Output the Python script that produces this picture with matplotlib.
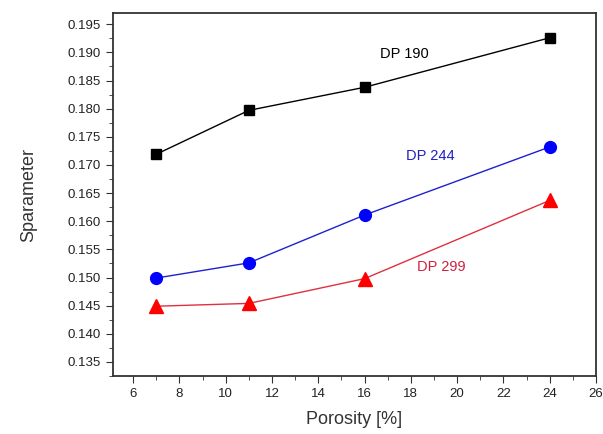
import matplotlib
matplotlib.use("Agg")
import matplotlib.pyplot as plt
from matplotlib.ticker import MultipleLocator, FormatStrFormatter

plt.rcParams['font.family'] = ['Liberation Sans', 'DejaVu Sans']

porosity = [7, 11, 16, 24]
dp190 = [0.1719, 0.1797, 0.1838, 0.1926]
dp244 = [0.1499, 0.1526, 0.1611, 0.1732]
dp299 = [0.1449, 0.1454, 0.1498, 0.1637]

fig = plt.figure(figsize=(6.03, 4.34), dpi=100)
ax = fig.add_axes([113 / 603, 1 - 376 / 434, (596 - 113) / 603, (376 - 13) / 434])

ax.plot(porosity, dp190, color='black', lw=1, marker='s', ms=7, zorder=3)
ax.plot(porosity, dp244, color='#2020d0', lw=1, marker='o', mfc='blue', mec='blue', ms=8.5, zorder=3)
ax.plot(porosity, dp299, color='#e03040', lw=1, marker='^', mfc='red', mec='red', ms=10, zorder=3)

ax.text(17.7, 0.1898, 'DP 190', color='black', fontsize=10.5, ha='center', va='center')
ax.text(18.85, 0.1716, 'DP 244', color='#2020c0', fontsize=10.5, ha='center', va='center')
ax.text(19.33, 0.1519, 'DP 299', color='#d02040', fontsize=10.5, ha='center', va='center')

ax.set_xlim(5.13, 26.0)
ax.set_ylim(0.1325, 0.197)
ax.xaxis.set_major_locator(MultipleLocator(2))
ax.xaxis.set_minor_locator(MultipleLocator(1))
ax.yaxis.set_minor_locator(MultipleLocator(0.0025))
ax.yaxis.set_major_formatter(FormatStrFormatter('%.3f'))
ax.set_yticks([v / 1000 for v in range(135, 196, 5)])

ax.tick_params(which='both', direction='out', labelsize=9.5, color='#333333', labelcolor='#222222')
ax.tick_params(which='major', length=5)
ax.tick_params(which='minor', length=3)
for s in ax.spines.values():
    s.set_linewidth(1.3)
    s.set_color('#333333')

ax.set_xlabel('Porosity [%]', fontsize=13, color='#333333', labelpad=8)
ax.set_ylabel('Sparameter', fontsize=13, color='#333333', labelpad=22)

fig.savefig('out.png', dpi=100)
